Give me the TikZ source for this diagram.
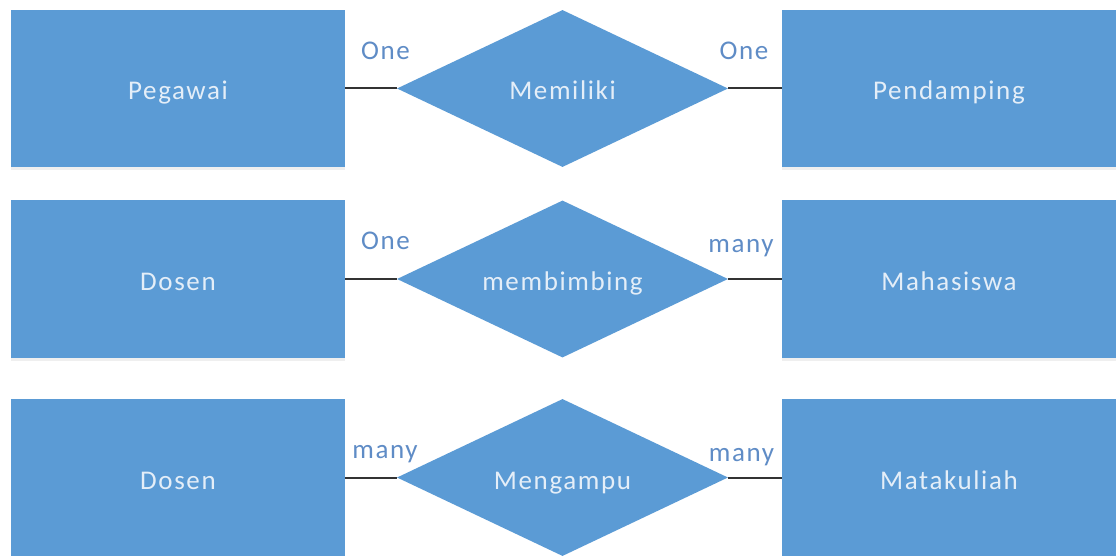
\documentclass[tikz,border=0pt]{standalone}
\usepackage{fontspec}
\setmainfont{Carlito}[LetterSpace=6]
\usetikzlibrary{shapes.geometric,shadows}
\definecolor{erblue}{HTML}{5B9BD5}
\definecolor{ertext}{HTML}{E4EEF8}
\definecolor{erlabel}{HTML}{5F8CC6}
\begin{document}
\begin{tikzpicture}[x=1pt,y=-1pt,
  boxtext/.style={text=ertext, font=\fontsize{27}{30}\selectfont,
    text height=23pt, text depth=0pt, inner sep=0pt},
  entity/.style={rectangle, fill=erblue, minimum width=334pt, minimum height=157pt,
    boxtext,
    drop shadow={opacity=0.12, shadow xshift=0pt, shadow yshift=-3pt}},
  relation/.style={diamond, fill=erblue, minimum width=331pt, minimum height=157pt,
    inner sep=0pt, label={[boxtext]center:#1}},
  card/.style={text=erlabel, font=\fontsize{27}{30}\selectfont, inner sep=0pt, anchor=base},
  link/.style={draw=black!80, line width=2pt}]
\useasboundingbox (0,0) rectangle (1116,556);
\fill[white] (0,0) rectangle (1116,556);

% row 1
\node[entity]   (pegawai)    at (178,88.5) {Pegawai};
\node[relation=Memiliki] (memiliki)   at (562.5,88.5) {};
\node[entity]   (pendamping) at (949,88.5) {Pendamping};
\draw[link] (pegawai.east) -- (memiliki.west);
\draw[link] (memiliki.east) -- (pendamping.west);
\node[card] (c1l) at (385.5,60) {One};
\node[card] (c1r) at (744,60) {One};

% row 2
\node[entity]   (dosen1)      at (178,279) {Dosen};
\node[relation=membimbing] (membimbing)  at (562.5,279) {};
\node[entity]   (mahasiswa)   at (949,279) {Mahasiswa};
\draw[link] (dosen1.east) -- (membimbing.west);
\draw[link] (membimbing.east) -- (mahasiswa.west);
\node[card] (c2l) at (385.5,249) {One};
\node[card] (c2r) at (741,252) {many};

% row 3
\node[entity]   (dosen2)      at (178,477.5) {Dosen};
\node[relation=Mengampu] (mengampu)    at (562.5,477.5) {};
\node[entity]   (matakuliah)  at (949,477.5) {Matakuliah};
\draw[link] (dosen2.east) -- (mengampu.west);
\draw[link] (mengampu.east) -- (matakuliah.west);
\node[card] (c3l) at (385,458) {many};
\node[card] (c3r) at (741.5,461) {many};
\end{tikzpicture}
\end{document}
